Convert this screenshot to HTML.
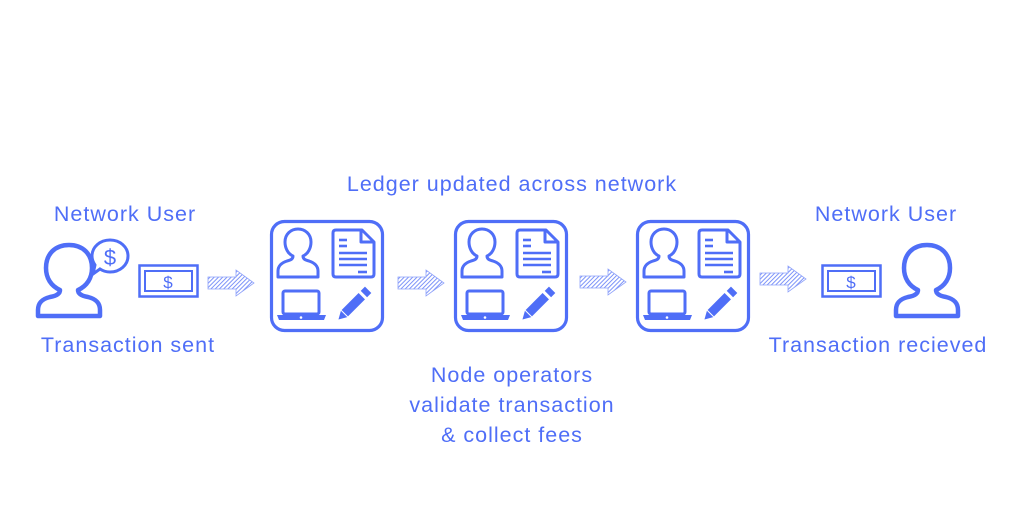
<!DOCTYPE html>
<html><head><style>
html,body{margin:0;padding:0;background:#fff;width:1024px;height:512px;overflow:hidden}
svg{display:block}
text{font-family:"Liberation Sans",sans-serif;font-size:21.5px;letter-spacing:1px;fill:#4f6ef7;text-anchor:middle}
</style></head><body>
<svg width="1024" height="512" viewBox="0 0 1024 512">
<defs>
<pattern id="h" width="3" height="3" patternUnits="userSpaceOnUse" patternTransform="rotate(45)">
<rect width="3" height="3" fill="#fff"/><line x1="0" y1="0" x2="0" y2="3" stroke="#6f88f8" stroke-width="1.8"/>
</pattern>
<g id="arrow">
<path d="M0,7 H28 V0 L46,13 L28,26 V19 H0 Z" fill="url(#h)" stroke="#8fa2fa" stroke-width="0.8"/>
</g>
<g id="user" fill="none" stroke="#4f6ef7" stroke-width="4.5" stroke-linejoin="round">
<path d="M21,50 C12,46 7,38 7,28 C7,14 16,5 30,5 C44,5 53,14 53,28 C53,38 48,46 39,50 C39,54 43,56 49,57 C57,59 61,63 61,70 V76 H-1 V70 C-1,63 3,59 11,57 C17,56 21,54 21,50 Z"/>
</g>
<g id="node">
<rect x="1.5" y="1.5" width="111" height="109" rx="13" fill="none" stroke="#4f6ef7" stroke-width="3.2"/>
<g fill="none" stroke="#4f6ef7" stroke-width="3" stroke-linejoin="round">
<path d="M23,36 C18,34 15,28 15,22 C15,14 21,9 28,9 C35,9 41,14 41,22 C41,28 38,34 33,36 C33,39 35,40 39,41 C45,43 48,46 48,51 V57 H8 V51 C8,46 11,43 17,41 C21,40 23,39 23,36 Z"/>
<path d="M66,10 H92 L104,22 V54 Q104,57 101,57 H66 Q63,57 63,54 V13 Q63,10 66,10 Z"/>
<path d="M91,11 V22 H103"/>
</g>
<g stroke="#4f6ef7" stroke-width="2.6">
<line x1="69" y1="20" x2="77" y2="20"/><line x1="69" y1="26" x2="77" y2="26"/>
<line x1="69" y1="33" x2="97" y2="33"/><line x1="69" y1="39" x2="97" y2="39"/>
<line x1="69" y1="45" x2="97" y2="45"/><line x1="88" y1="52" x2="97" y2="52"/>
</g>
<rect x="13" y="71" width="36" height="23" rx="2" fill="none" stroke="#4f6ef7" stroke-width="3"/>
<path d="M7,95 H56 L54,100 H9 Z" fill="#4f6ef7"/>
<circle cx="31" cy="97.5" r="1.3" fill="#fff"/>
<g transform="translate(84,84) rotate(-45)">
<rect x="-13" y="-4.5" width="24" height="9" fill="#4f6ef7"/>
<rect x="14" y="-4.5" width="6" height="9" fill="#4f6ef7"/>
<path d="M-14,-4.5 L-22,0 L-14,4.5 Z" fill="#4f6ef7"/>
</g>
</g>
<g id="money">
<rect x="1.5" y="1.5" width="58" height="31" fill="none" stroke="#4f6ef7" stroke-width="2.5"/>
<rect x="7" y="7" width="47" height="20" fill="none" stroke="#4f6ef7" stroke-width="2"/>
<text x="30" y="24" style="font-size:17px;letter-spacing:0">$</text>
</g>
</defs>

<text x="125" y="221">Network User</text>
<text x="128" y="352">Transaction sent</text>
<text x="512" y="191">Ledger updated across network</text>
<text x="512" y="382">Node operators</text>
<text x="512" y="412">validate transaction</text>
<text x="512" y="442">&amp; collect fees</text>
<text x="886" y="221">Network User</text>
<text x="878" y="352">Transaction recieved</text>

<use href="#user" x="39" y="240"/>
<path d="M110,240 C120,240 128,247 128,256 C128,265 120,272 110,272 C106,272 103,271 100,269 L93,274 L95,265 C93,262 92,259 92,256 C92,247 100,240 110,240 Z" fill="none" stroke="#4f6ef7" stroke-width="3"/>
<text x="110" y="265" style="font-size:22px;letter-spacing:0">$</text>
<use href="#money" x="138" y="264"/>
<use href="#arrow" x="208" y="270"/>
<use href="#node" x="270" y="220"/>
<use href="#arrow" x="398" y="270"/>
<use href="#node" x="454" y="220"/>
<use href="#arrow" x="580" y="269"/>
<use href="#node" x="636" y="220"/>
<use href="#arrow" x="760" y="266"/>
<use href="#money" x="821" y="264"/>
<use href="#user" x="897" y="240"/>
</svg>
</body></html>
